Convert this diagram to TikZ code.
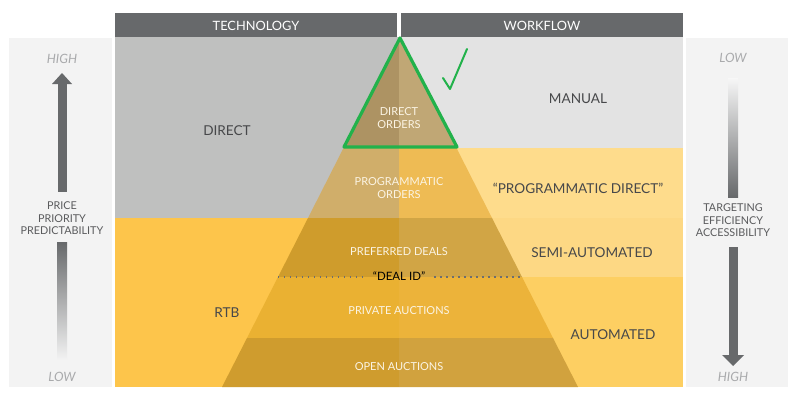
\documentclass[tikz,border=0pt]{standalone}
\usepackage{fontspec}
\setmainfont{Lato}
\begin{document}
\begin{tikzpicture}[x=1pt,y=-1pt,
  hdr/.style={fill=hdrgray},
  hdrtxt/.style={text=white,font=\fontsize{12.8}{13}\selectfont},
  maintxt/.style={text=maintext,font=\fontsize{13.6}{14}\selectfont},
  pyrtxt/.style={text=pyrwhite,font=\fontsize{11}{12.3}\selectfont,align=center},
  sidetxt/.style={text=sidetext,font=\fontsize{10.8}{12.4}\selectfont,align=center},
  hl/.style={text=hltext,font=\fontsize{12.8}{13}\selectfont\itshape},
  dots/.style={draw=dotgray,line width=1.4pt,dash pattern=on 1.4pt off 4.6pt}
]
\definecolor{hdrgray}{HTML}{67696B}
\definecolor{panel}{HTML}{F3F3F3}
\definecolor{directgray}{HTML}{BFC0BF}
\definecolor{manualgray}{HTML}{E3E3E3}
\definecolor{pdband}{HTML}{FEDC8C}
\definecolor{semiband}{HTML}{FDD884}
\definecolor{autoband}{HTML}{FDCF62}
\definecolor{rtb}{HTML}{FDC54B}
\definecolor{doL}{HTML}{AD9363}\definecolor{doR}{HTML}{C0A775}
\definecolor{poL}{HTML}{D0AE6A}\definecolor{poR}{HTML}{EEBB54}
\definecolor{pdL}{HTML}{CF9C2C}\definecolor{pdR}{HTML}{D1A545}
\definecolor{paL}{HTML}{EAB132}\definecolor{paR}{HTML}{ECB33A}
\definecolor{oaL}{HTML}{CF9C2E}\definecolor{oaR}{HTML}{D1A23E}
\definecolor{maintext}{HTML}{47484A}
\definecolor{sidetext}{HTML}{5A5B5D}
\definecolor{hltext}{HTML}{A9AAAC}
\definecolor{pyrwhite}{HTML}{FBF4E4}
\definecolor{okgreen}{HTML}{22B24B}
\definecolor{dotgray}{HTML}{6D6E70}
\useasboundingbox[fill=white] (0,0) rectangle (799,404);
% side panels
\fill[panel] (9,38) rectangle (112,387);
\fill[panel] (686,38) rectangle (788,387);
% headers
\fill[hdr] (115,13) rectangle (397,37);
\fill[hdr] (401,13) rectangle (683,37);
\node[hdrtxt] (tech) at (256,26) {TECHNOLOGY};
\node[hdrtxt] (work) at (542,26) {WORKFLOW};
% backgrounds
\fill[directgray] (115,37) rectangle (399,218);
\fill[manualgray] (399,37) rectangle (683,148);
\fill[pdband] (399,148) rectangle (683,218);
\fill[semiband] (399,218) rectangle (683,277);
\fill[autoband] (399,277) rectangle (683,387);
\fill[rtb] (115,218) rectangle (399,387);
% pyramid layers
\fill[doL] (400,37) -- (399,37) -- (399,148) -- (343.5,148) -- cycle;
\fill[doR] (399,37) -- (400,37) -- (456.5,148) -- (399,148) -- cycle;
\fill[poL] (343.5,148) -- (399,148) -- (399,218) -- (308,218) -- cycle;
\fill[poR] (399,148) -- (456.5,148) -- (492,218) -- (399,218) -- cycle;
\fill[pdL] (308,218) -- (399,218) -- (399,277) -- (278,277) -- cycle;
\fill[pdR] (399,218) -- (492,218) -- (522,277) -- (399,277) -- cycle;
\fill[paL] (278,277) -- (399,277) -- (399,338) -- (247,338) -- cycle;
\fill[paR] (399,277) -- (522,277) -- (553,338) -- (399,338) -- cycle;
\fill[oaL] (247,338) -- (399,338) -- (399,387) -- (222,387) -- cycle;
\fill[oaR] (399,338) -- (553,338) -- (578,387) -- (399,387) -- cycle;
% green outline and check
\draw[okgreen,line width=3.2pt,line join=round] (400,38) -- (457,147) -- (344,147) -- cycle;
\draw[okgreen,line width=2pt,line cap=round,line join=round] (443,78) -- (450,89) -- (467,49);
% main labels
\node[maintxt] (direct) at (227,131) {DIRECT};
\node[maintxt] (manual) at (578,99) {MANUAL};
\node[maintxt] (pdirect) at (578,188) {“PROGRAMMATIC DIRECT”};
\node[maintxt] (semi) at (592,253) {SEMI-AUTOMATED};
\node[maintxt] (auto) at (613,335) {AUTOMATED};
\node[maintxt] (rtbl) at (227,313) {RTB};
% pyramid labels
\node[pyrtxt] (dord) at (399,118) {DIRECT\\ORDERS};
\node[pyrtxt] (pord) at (399,188) {PROGRAMMATIC\\ORDERS};
\node[pyrtxt] (pref) at (399,252) {PREFERRED DEALS};
\node[text=black,font=\fontsize{11.5}{12}\selectfont,inner xsep=9pt,inner ysep=1pt] (dealid) at (399,276) {“DEAL ID”};
\node[pyrtxt] (priv) at (399,311) {PRIVATE AUCTIONS};
\node[pyrtxt] (open) at (399,367) {OPEN AUCTIONS};
% dotted line
\coordinate (dl1) at (278,277);
\coordinate (dl2) at (522,277);
\draw[dots] (dl1) -- (dl1 -| dealid.west);
\draw[dots] (dl2 -| dealid.east) -- (dl2);
% left panel
\node[hl] (lhigh) at (62,59) {HIGH};
\fill[hdrgray] (57.5,83) rectangle (66.5,192);
\fill[hdrgray] (52,84) -- (62,73) -- (72,84) -- cycle;
\node[sidetxt] (lside) at (62,218.5) {PRICE\\PRIORITY\\PREDICTABILITY};
\shade[top color=hdrgray,bottom color=panel] (57,242) rectangle (67,360);
\node[hl] (llow) at (62,377) {LOW};
% right panel
\node[hl] (rlow) at (733,58) {LOW};
\shade[top color=panel!70!white,bottom color=hdrgray] (728,78) rectangle (738,197);
\node[sidetxt] (rside) at (733,220.5) {TARGETING\\EFFICIENCY\\ACCESSIBILITY};
\fill[hdrgray] (728.5,247) rectangle (737.5,356);
\fill[hdrgray] (722,355) -- (733,366) -- (744,355) -- cycle;
\node[hl] (rhigh) at (733,377) {HIGH};
\end{tikzpicture}
\end{document}
